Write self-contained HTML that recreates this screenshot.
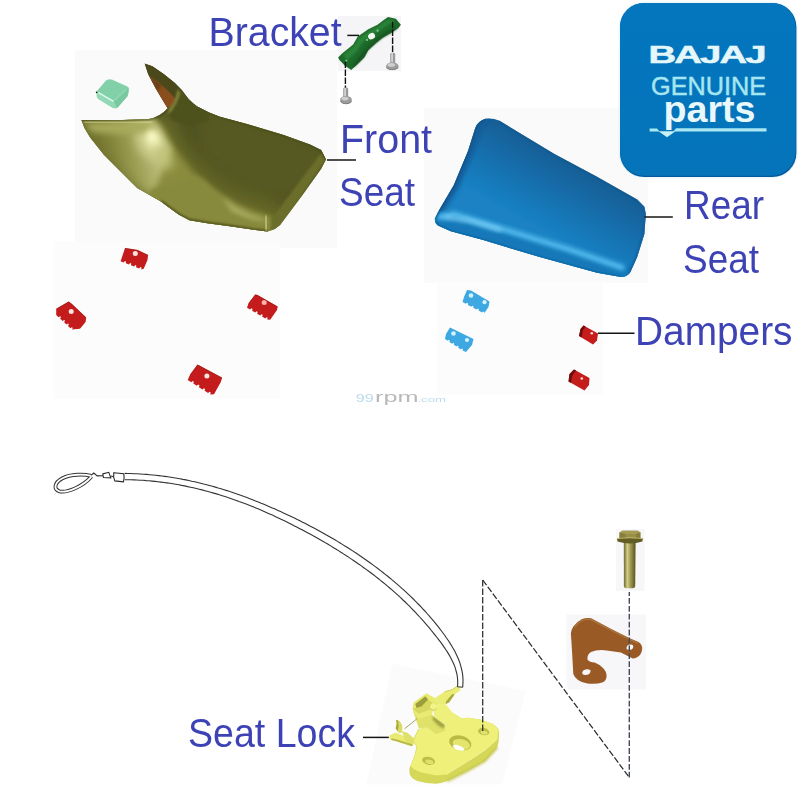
<!DOCTYPE html>
<html>
<head>
<meta charset="utf-8">
<title>Seat parts diagram</title>
<style>
  html, body { margin: 0; padding: 0; background: #ffffff; }
  body { width: 802px; height: 800px; overflow: hidden; position: relative; font-family: "Liberation Sans", sans-serif; }
  svg { position: absolute; left: 0; top: 0; display: block; }
  .lbl { font-family: "Liberation Sans", sans-serif; fill: #3d43b5; font-size: 40px; }
</style>
</head>
<body>
<svg width="802" height="800" viewBox="0 0 802 800">
  <defs>
    <linearGradient id="gSeat" x1="0" y1="0" x2="1" y2="1">
      <stop offset="0" stop-color="#8a8a3a"/>
      <stop offset="0.45" stop-color="#6e6f24"/>
      <stop offset="1" stop-color="#5d5e1c"/>
    </linearGradient>
    <linearGradient id="gRear" x1="0" y1="0" x2="1" y2="1">
      <stop offset="0" stop-color="#1f8fd4"/>
      <stop offset="1" stop-color="#1378bd"/>
    </linearGradient>
    <linearGradient id="gLogo" x1="0" y1="0" x2="0" y2="1">
      <stop offset="0" stop-color="#0376be"/>
      <stop offset="1" stop-color="#0574ba"/>
    </linearGradient>
    <filter id="b1" x="-20%" y="-20%" width="140%" height="140%"><feGaussianBlur stdDeviation="1"/></filter>
    <filter id="b2" x="-30%" y="-30%" width="160%" height="160%"><feGaussianBlur stdDeviation="2"/></filter>
    <filter id="b3" x="-40%" y="-40%" width="180%" height="180%"><feGaussianBlur stdDeviation="3"/></filter>
    <filter id="b5" x="-50%" y="-50%" width="200%" height="200%"><feGaussianBlur stdDeviation="5"/></filter>
    <filter id="b8" x="-60%" y="-60%" width="220%" height="220%"><feGaussianBlur stdDeviation="8"/></filter>
    <filter id="txt" x="-2%" y="-10%" width="104%" height="120%"><feGaussianBlur stdDeviation="0.35"/></filter>
    <filter id="soft" x="-5%" y="-5%" width="110%" height="110%"><feGaussianBlur stdDeviation="0.6"/></filter>
    <clipPath id="cSeat">
      <path d="M81.4 120 L122.5 120 L148.8 119.1 Q160 117 167.6 108.3 L163.7 102.1 L155.8 88.7 L148 74.1 L144.6 63.4 L152.4 66.2 L163.7 74.1 L174.9 83.1 L181.6 89.8 L188.4 98.8 Q192.5 103 197.3 106.6 L208.6 112.2 L220 116.7 L246 123.7 L283.7 135 L310 144.4 L321.2 150 L326 159.4 L321.2 168.7 L302.5 195 L280 225 L274.8 229 L267.3 231.4 L253.8 229.8 L229.9 226.2 L207.4 223.2 L189.5 220.2 L179 214.8 L170 208.2 L161 201.5 L137.3 188 L120.5 171.2 L103.7 154.4 L90.2 137.5 L84.5 128 Z"/>
    </clipPath>
    <clipPath id="cRear">
      <path d="M485.2 118.8 Q492 117.5 499.6 120.8 L554 153.8 L597 176.7 L637.2 199.6 L644.4 206.8 L645.8 214 L644.4 234 L637.2 257 L630 272.8 Q627 277 621 277 L597 272.8 L539.7 257 L482.4 239.8 L450.8 231.2 L437.9 225.4 Q434 222 435 218.3 L439.3 209.7 L453.7 185.3 L468 150.9 L475.2 128 Q478 121 485.2 118.8 Z"/>
    </clipPath>
    <linearGradient id="gRearTop" gradientUnits="userSpaceOnUse" x1="568" y1="160" x2="530.7" y2="225">
      <stop offset="0" stop-color="#145e96"/>
      <stop offset="0.35" stop-color="#156aa6"/>
      <stop offset="0.75" stop-color="#1679ba"/>
      <stop offset="1" stop-color="#1a82c4"/>
    </linearGradient>
    <linearGradient id="gBolt" x1="0" y1="0" x2="1" y2="0">
      <stop offset="0" stop-color="#6c6626"/>
      <stop offset="0.3" stop-color="#d2cd8e"/>
      <stop offset="0.6" stop-color="#9a944a"/>
      <stop offset="1" stop-color="#57531e"/>
    </linearGradient>
    <linearGradient id="gWing" gradientUnits="userSpaceOnUse" x1="84" y1="150" x2="150" y2="135">
      <stop offset="0" stop-color="#6a6c2a"/>
      <stop offset="0.35" stop-color="#7c7e36"/>
      <stop offset="0.65" stop-color="#979a4e"/>
      <stop offset="1" stop-color="#b9b976"/>
    </linearGradient>
  </defs>

  <!-- BACKGROUND PATCHES -->
  <g id="patches">
    <rect x="75" y="50" width="262" height="198" fill="#fafafa"/>
    <rect x="54" y="241" width="226" height="158" fill="#fcfcfc"/>
    <rect x="424" y="108" width="224" height="175" fill="#fafafa"/>
    <rect x="437" y="282" width="166" height="113" fill="#fcfcfc"/>
  </g>

  <!-- FRONT SEAT -->
  <g id="frontseat" filter="url(#soft)">
    <g clip-path="url(#cSeat)">
      <rect x="70" y="55" width="270" height="185" fill="#4f5321"/>
      <!-- top face gentle gradient lighter toward right rear -->
      <path d="M200 100 L330 150 L330 170 L260 215 L200 160 Z" fill="#565a24" filter="url(#b8)"/>
      <!-- transition zone -->
      <path d="M160 116 L172 112 Q178 140 196 160 Q220 186 250 198 L290 212 L276 236 L130 236 L100 160 Z" fill="#6c6e2c" opacity="0.85" filter="url(#b8)"/>
      <!-- left wing / side face -->
      <path d="M78 116 L150 117 Q155 117 157 121 L168.6 140 L182 158 Q196 178 214 191 Q236 206 270 217 L276 236 L130 236 L78 140 Z" fill="#8b8c3e" filter="url(#b3)"/>
      <path d="M78 116 L150 117 L160 126 L172 150 L150 200 L120 180 L78 140 Z" fill="url(#gWing)" filter="url(#b3)"/>
      <ellipse cx="150" cy="143" rx="12" ry="19" fill="#cfcf8e" filter="url(#b5)" transform="rotate(-32 150 143)"/>
      <!-- lower/left darker falloff on wing -->
      <path d="M78 126 L96 150 L120 174 L140 190 L172 206 L172 240 L70 240 Z" fill="#66672a" opacity="0.75" filter="url(#b5)"/>
      <!-- lighter band under the top edge of the wing -->
      <path d="M84 123 L150 122 L156 132 L120 134 L92 132 Z" fill="#a9aa5c" filter="url(#b3)"/>
      <path d="M84 122.8 L122 122.8 L152 122" fill="none" stroke="#cfcf88" stroke-width="2.6" filter="url(#b1)"/>
      <!-- main highlight -->
      <ellipse cx="153.5" cy="140" rx="6.5" ry="11" fill="#fbfbc6" filter="url(#b3)" transform="rotate(-22 153.5 140)"/>
      <ellipse cx="162" cy="156" rx="8" ry="16" fill="#c3c57c" opacity="0.8" filter="url(#b5)" transform="rotate(-35 162 156)"/>
      <!-- front face -->
      <path d="M196 176 L204.4 180 Q210 187 219.4 193.5 L234.4 204 L250.8 212.2 L262.8 215.9 L270 216 L270 236 L160 236 L150 190 Z" fill="#87893e" filter="url(#b2)"/>
      <path d="M222 198 L236 207 L251 214.5 L263 218.4 L266 222 L250 219 L232 212 Z" fill="#a7a95e" filter="url(#b2)"/>
      <path d="M267.3 231.4 L253.8 229.8 L229.9 226.2 L207.4 223.2 L189.5 220.2 L179 214.8 L170 208.2 L161 201.5" fill="none" stroke="#55571f" stroke-width="3.2" filter="url(#b1)"/>
      <path d="M265.6 217 L266.4 229" fill="none" stroke="#c2c282" stroke-width="3" filter="url(#b1)" stroke-linecap="round"/>
      <!-- right side strip -->
      <path d="M326 159 L322 152 L272 218 L270 232 L282 226 Z" fill="#6b6e2b" filter="url(#b1)"/>
      <!-- top edge dark lines -->
      
      <path d="M197.3 106.6 L208.6 112.2 L220 116.7 L246 123.7 L283.7 135 L310 144.4 L321.2 150 L326 159.4" fill="none" stroke="#474b18" stroke-width="2" filter="url(#b1)"/>
      <!-- horn -->
      <path d="M143 60 L153 63 L166 73 L178 84 L186 94 L194 103 L206 110 L210 120 L190 126 L172 120 L168 112 L176 96 L160 76 Z" fill="#4d511f" filter="url(#b1)"/>
      <path d="M144.6 63.4 L152.4 66.2 L163.7 74.1 L174.9 83.1 L178 88 L177 92 L172.6 104.4 L167.6 108.3 L163.7 102.1 L155.8 88.7 L148 74.1 Z" fill="#4c4a1c"/>
      <path d="M148.6 75.5 L151.3 77.4 L158 82 L169.3 92 L176 99.9 L172.6 104.4 L167.6 108.3 L163.7 102.1 L155.8 88.7 Z" fill="#8a4e1d"/>
      <path d="M148.6 75.5 L151.3 77.4 L158 82 L162 86 L158 91 L155.8 88.7 Z" fill="#6b431a" filter="url(#b1)"/>
      <path d="M177.6 89 L180.4 93.4 L176.4 103.4 L171.4 111.4 L167.6 114.6 L169 108.6 L173.6 102.6 L176.6 94 Z" fill="#7f8139" filter="url(#b1)"/>
      <path d="M81 120 L122.5 120 L148.8 119.1 Q160 117 167.6 108.3" fill="none" stroke="#3f4314" stroke-width="1.6" filter="url(#b1)"/>
    </g>
  </g>

  <!-- BRACKET + SCREWS -->
  <g id="bracket">
    <rect x="338" y="16" width="63" height="55" fill="#f5f5f7"/>
    <g filter="url(#soft)">
      <path d="M338.1 57.5 L342.1 53.6 L353.2 44.4 L357.8 36.5 L368.3 29.3 L377.5 24.7 L382.7 20.7 L388 17.1 L395.9 18.8 L400.9 24.7 L398.5 28 L390.6 33.2 L382.7 37.8 L376.2 43.1 L368.3 50.3 L364.4 57.5 L357.8 64.1 L351.2 70 L344.7 65.4 L339.4 60.1 Z" fill="#1f6b2c"/>
      <path d="M343 55 L354 46 L359 38 L369 31 L378 26.5 L388 19.5 L394 20.5 L380 30 L370 36 L362 43 L356 52 L348 60 Z" fill="#2e8a3d" opacity="0.8" filter="url(#b1)"/>
      <path d="M364 57 L368 50 L376 43 L383 37.5 L391 33 L398 28 L396 27 L384 33 L374 40 L365 49 L358 58 L352 66 L354 67 Z" fill="#164f20" opacity="0.8" filter="url(#b1)"/>
      <ellipse cx="371.6" cy="36.2" rx="3.6" ry="3" fill="#f2f8f2" transform="rotate(-30 371.6 36.2)"/>
      <circle cx="367" cy="39.9" r="1.1" fill="#7ec98a"/>
      <circle cx="377.6" cy="30.7" r="1.1" fill="#7ec98a"/>
      <circle cx="346.2" cy="60.6" r="1.2" fill="#6dbb7a"/>
      <circle cx="392.6" cy="21.8" r="1.1" fill="#4aa35a"/>
    </g>
    <line x1="347.3" y1="35.4" x2="359" y2="35.4" stroke="#151515" stroke-width="1.5"/>
    <line x1="345.4" y1="61.5" x2="345.4" y2="88" stroke="#111" stroke-width="1.4" stroke-dasharray="6.4 1.6"/>
    <line x1="392.6" y1="21.5" x2="392.6" y2="52.4" stroke="#111" stroke-width="1.4" stroke-dasharray="6.4 1.6"/>
    <!-- screw 1 -->
    <g filter="url(#soft)">
      <rect x="343.2" y="87.6" width="5" height="10" rx="1.5" fill="#9a9a9a"/>
      <rect x="344.2" y="88" width="1.8" height="9" fill="#d2d2d2"/>
      <ellipse cx="346" cy="100" rx="5.9" ry="4.1" fill="#9c9c9c"/>
      <ellipse cx="345" cy="98.6" rx="3.6" ry="1.8" fill="#cfcfcf"/>
      <path d="M340.3 100.5 Q346 106 351.8 100.5 L351.5 102 Q346 106.5 340.6 102 Z" fill="#7f7f7f"/>
    </g>
    <!-- screw 2 -->
    <g filter="url(#soft)">
      <rect x="390.2" y="52.8" width="5" height="11" rx="1.5" fill="#9a9a9a"/>
      <rect x="391.2" y="53.2" width="1.8" height="10" fill="#d2d2d2"/>
      <ellipse cx="392.3" cy="66.2" rx="6.2" ry="3.9" fill="#9c9c9c"/>
      <ellipse cx="391.4" cy="64.9" rx="3.8" ry="1.8" fill="#cfcfcf"/>
      <path d="M386.2 66.8 Q392.3 72 398.4 66.8 L398.1 68.2 Q392.3 72.4 386.5 68.2 Z" fill="#7f7f7f"/>
    </g>
  </g>

  <!-- AQUA BLOCK -->
  <g id="aqua" filter="url(#soft)">
    <path d="M106.5 80.4 Q109 79.4 112 80 L127.6 87 Q129.2 88.2 128.6 90 L127.4 96 L117.4 107.4 Q115.4 108.6 112.6 107.4 L98 98.4 Q96.8 97 97 95 L97.4 91 Z" fill="#82d0a8" stroke="#82d0a8" stroke-width="0.8" stroke-linejoin="round"/>
    <path d="M97.2 91.4 L113.8 101 L116.6 107.6 Q114.6 108.4 112.6 107.4 L98 98.4 Q96.8 97 97 95 Z" fill="#93d9b6"/>
    <path d="M113.8 101 L127 88.6 L128.6 90 L127.4 96 L117.4 107.4 L116.6 107.6 Z" fill="#7ac89f"/>
    <path d="M98.4 92.6 L113.6 101.4" fill="none" stroke="#dbfaee" stroke-width="1.5"/>
    <path d="M114.6 100.4 L126.6 89.2" fill="none" stroke="#a5e2c6" stroke-width="1"/>
    <circle cx="96.6" cy="92.4" r="0.8" fill="#111"/>
  </g>

  <!-- REAR SEAT -->
  <g id="rearseat" filter="url(#soft)">
    <g clip-path="url(#cRear)">
      <rect x="430" y="110" width="220" height="172" fill="url(#gRearTop)"/>
      <!-- left edge darker strip -->
      <path d="M484 116 L476 126 L466 152 L452 186 L434 214 L442 214 L459 187 L473 153 L483 127 L490 118 Z" fill="#145c98" filter="url(#b2)"/>
      <!-- front face -->
      <path d="M434 212 L456 210.5 L511 228 L568 245.5 L626 265 L636 260 L636 282 L430 282 Z" fill="#1478b8"/>
      <!-- ridge highlight band -->
      <path d="M440 217 L454 214 L511 231.5 L568 249 L622 267.5" fill="none" stroke="#52bcf0" stroke-width="6" filter="url(#b2)" stroke-linecap="round"/>
      <path d="M446 217.5 L470 221 L500 230" fill="none" stroke="#7fd2f7" stroke-width="3" filter="url(#b2)" stroke-linecap="round"/>
      <!-- bottom edge darker -->
      <path d="M435 222 L437.9 226.5 L450.8 232.5 L482.4 241 L539.7 258.4 L597 274 L621 278.5" fill="none" stroke="#0f609a" stroke-width="3.4" filter="url(#b1)"/>
      <!-- right edge dark -->
      <path d="M637 199 L645.5 207 L646.5 214 L645 234 L638 257 L630.5 273.5" fill="none" stroke="#125f9c" stroke-width="4.5" filter="url(#b1)"/>
      <!-- far edge darker -->
      <path d="M499.6 120.8 L554 153.8 L597 176.7 L637.2 199.6" fill="none" stroke="#11578c" stroke-width="2.4" filter="url(#b1)"/>
      <path d="M485 118.4 Q478 121 475.2 128 L468 150.9 L453.7 185.3 L439.3 209.7 L435 218.3" fill="none" stroke="#0d4a7c" stroke-width="1.6" filter="url(#b1)"/>
    </g>
  </g>

  <!-- DAMPERS -->
  <g id="dampers" filter="url(#soft)">
    <path d="M120.6 261.2 L125.0 248.1 L137.5 250.0 L148.1 255.0 L147.5 260.0 L143.7 268.7 L141.2 269.4 L141.5 267.6 L140.3 267.1 L139.2 268.6 L136.0 267.3 L136.3 265.5 L135.2 265.1 L134.1 266.6 L130.9 265.3 L131.2 263.5 L130.0 263.0 L128.9 264.5 L125.8 263.2 L126.0 261.4 L124.9 261.0 L123.8 262.5 Z" fill="#c41f1f"/><circle cx="135.3" cy="253.4" r="2.5" fill="#fde3df"/>
    <path d="M56.2 315.0 L56.2 308.7 L68.7 301.6 L72.5 304.4 L86.2 317.5 L85.6 321.9 L80.0 328.7 L71.9 329.6 L72.8 328.0 L71.9 327.2 L70.4 328.2 L68.0 326.0 L68.9 324.3 L68.0 323.5 L66.5 324.6 L64.1 322.3 L65.0 320.7 L64.1 319.9 L62.6 320.9 L60.1 318.6 L61.0 317.0 L60.2 316.2 L58.6 317.3 Z" fill="#c41f1f"/><circle cx="71.2" cy="311.6" r="2.5" fill="#fde3df"/>
    <path d="M247.0 307.7 L248.5 303.2 L255.2 294.6 L257.5 295.0 L277.7 306.6 L277.0 310.0 L270.2 319.7 L267.2 319.6 L267.7 317.8 L266.6 317.2 L265.3 318.5 L262.1 316.6 L262.7 314.8 L261.5 314.2 L260.2 315.5 L257.1 313.7 L257.6 311.9 L256.5 311.2 L255.2 312.5 L252.1 310.7 L252.6 308.9 L251.4 308.2 L250.1 309.5 Z" fill="#c41f1f"/><circle cx="264.2" cy="302.5" r="2.5" fill="#ffb0a8"/>
    <path d="M187.7 380.0 L190.0 374.7 L197.5 364.6 L222.2 377.7 L220.7 382.2 L214.0 394.2 L210.2 394.4 L210.7 392.6 L209.5 391.8 L208.1 393.0 L204.6 390.8 L205.1 389.0 L203.9 388.2 L202.4 389.4 L198.9 387.2 L199.5 385.4 L198.2 384.6 L196.8 385.8 L193.3 383.6 L193.8 381.8 L192.6 381.0 L191.2 382.2 Z" fill="#c41f1f"/><circle cx="206.9" cy="375.9" r="2.5" fill="#fde3df"/>
    <g fill="none" stroke="#8a1212" stroke-width="0.9" opacity="0.55">
      <path d="M125 248.4 L137.5 250.3 L147.8 255.2"/>
      <path d="M56.6 308.9 L68.7 302 L72.3 304.7 L85.9 317.7"/>
      <path d="M248.8 303.3 L255.3 295 L257.4 295.4 L277.4 306.9"/>
      <path d="M190.3 374.8 L197.6 365 L221.9 377.9"/>
    </g>
  </g>
  <g id="bluedampers" filter="url(#soft)">
    <path d="M462.5 302.0 L464.0 297.0 L467.0 290.0 L471.0 290.5 L489.5 301.5 L488.5 307.0 L484.0 313.5 L484.2 312.0 L483.0 311.4 L482.0 312.4 L478.6 310.6 L478.9 309.2 L477.7 308.5 L476.6 309.5 L473.2 307.8 L473.5 306.3 L472.3 305.7 L471.2 306.7 L467.9 304.9 L468.1 303.4 L466.9 302.8 L465.8 303.8 Z" fill="#3ea8e2"/><circle cx="471" cy="295.5" r="2.3" fill="#d2f2fd"/><circle cx="484.5" cy="302.2" r="2.1" fill="#d2f2fd"/>
    <path d="M445.0 339.0 L446.0 334.0 L450.0 327.5 L473.5 339.0 L472.0 345.0 L466.0 352.0 L462.5 350.5 L462.9 349.1 L462.0 348.5 L460.8 349.4 L458.1 347.6 L458.5 346.2 L457.6 345.6 L456.5 346.5 L453.8 344.8 L454.2 343.4 L453.2 342.7 L452.1 343.7 L449.4 341.9 L449.8 340.5 L448.8 339.8 L447.7 340.8 Z" fill="#3ea8e2"/><circle cx="453.5" cy="333.5" r="2.3" fill="#d2f2fd"/><circle cx="467" cy="340" r="2.1" fill="#d2f2fd"/>
  </g>
  <g id="smallreds" filter="url(#soft)">
    <path d="M583.5 325.5 L598 333.5 L597 340.5 L593 344.5 L579 336 L580.5 329 Z" fill="#c51f1f"/>
    <path d="M583.5 325.5 L580.5 329 L579 336 L581.6 337.4 L583 330.5 L585.5 326.6 Z" fill="#6e1010"/>
    <circle cx="591.8" cy="333.2" r="1.3" fill="#fbd9d4"/>
    <path d="M574 369.5 L589.5 378 L589 385 L584.5 390.5 L568.5 381.5 L569.5 374 Z" fill="#c51f1f"/>
    <path d="M574 369.5 L569.5 374 L568.5 381.5 L571.2 383 L572.2 376 L576 370.6 Z" fill="#6e1010"/>
    <circle cx="581.8" cy="378.5" r="1.3" fill="#fbd9d4"/>
  </g>
  <line x1="598" y1="333.3" x2="634.5" y2="333.3" stroke="#151515" stroke-width="1.5"/>
  <line x1="644.5" y1="217" x2="672.8" y2="217" stroke="#151515" stroke-width="1.5"/>
  <line x1="327" y1="160" x2="356" y2="160" stroke="#151515" stroke-width="1.5"/>

  <!-- LOGO -->
  <g id="logo">
    <rect x="619.4" y="2.4" width="177.6" height="175.2" rx="25" ry="25" fill="#d9f1fa" filter="url(#b1)"/>
    <rect x="620" y="3" width="176.4" height="174" rx="24" ry="24" fill="#07589a"/>
    <rect x="620" y="3" width="175.6" height="172.8" rx="24" ry="24" fill="url(#gLogo)"/>
    <g transform="translate(648.6 62.8) scale(1.66 1)"><text x="0" y="0" font-family="Liberation Sans, sans-serif" font-weight="bold" font-size="23" letter-spacing="-1.1" fill="#e4f7fa" stroke="#e4f7fa" stroke-width="0.5">BAJAJ</text></g>
    <text x="651" y="95.2" font-family="Liberation Sans, sans-serif" font-size="25.5" fill="#a5e6f1" stroke="#a5e6f1" stroke-width="0.45" textLength="115" lengthAdjust="spacingAndGlyphs">GENUINE</text>
    <text x="663.5" y="122.3" font-family="Liberation Sans, sans-serif" font-weight="bold" font-size="36" fill="#e9f8fb" textLength="92" lengthAdjust="spacingAndGlyphs">parts</text>
    <path d="M649.6 128.6 L657 128.6 L659.5 131.6 L649.6 131.6 Z" fill="#a9e7f2"/>
    <path d="M676 128.2 L766.5 128.2 L766.5 131.4 L673.5 131.4 Z" fill="#a9e7f2"/>
    <path d="M658.5 131.2 L675.5 131.2 L667 137.2 Z" fill="#c8f0f7"/>
  </g>

  <!-- SEAT LOCK -->
  <g id="seatlock">
    <path d="M392.4 663.7 L525.8 691.1 L502 784.6 L366.2 784.6 Z" fill="#fbfbfb"/>
    <g filter="url(#soft)">
      <!-- plate silhouette (side, darker) -->
      <path d="M412.4 741.3 L418.1 729.2 L427 727.5 L435.9 734 L444.8 728.4 L451 712 L461.1 718.6 L467.5 717.8 L480.5 719.4 L491.9 723.5 Q499.4 728 499.1 732.4 L498.6 742 L497.3 747.4 L484.8 761.2 L467.3 771.1 L447.4 781.1 Q442 783.4 436.2 783.8 Q426 783.6 417.5 781.1 Q412 778.6 410 774.9 Q409 771 409.6 768 L414.9 754.3 L416.5 746.2 Z" fill="#d5d758"/>
      <!-- plate top face (lighter) -->
      <path d="M413.4 741.3 L418.7 729.4 L427 727.5 L435.9 734 L444.8 728.4 L451 712 L461.1 718.6 L467.5 717.8 L480.5 719.4 L491.9 723.5 Q498.6 728 498.4 732 L497.3 738.7 L484.8 749.9 L467.3 761.2 L446.1 774.3 Q440 775.6 433.7 774.9 Q424 773.6 417.5 771.1 Q412.6 768.8 410.6 766.1 L415.4 754.3 L417.2 746.2 Z" fill="#eff07a"/>
      <!-- side face vertical ribs hint -->
      <path d="M446.1 774.6 L467.3 761.5 L484.8 750.2 L497.3 739" fill="none" stroke="#f6f7a0" stroke-width="1" opacity="0.9"/>
      <path d="M447.4 781.3 L467.3 771.3 L484.8 761.4 L497.3 747.6" fill="none" stroke="#bdbf46" stroke-width="1.6" filter="url(#b1)"/>
      <!-- big hole -->
      <ellipse cx="460.2" cy="742.9" rx="11.3" ry="7.3" fill="#b9bb44" transform="rotate(14 460.2 742.9)"/>
      <ellipse cx="461.4" cy="744.2" rx="8.8" ry="5" fill="#e3e56e" transform="rotate(14 461.4 744.2)"/>
      <ellipse cx="458.6" cy="747.8" rx="6" ry="2.3" fill="#ffffff" transform="rotate(20 458.6 747.8)"/>
      <!-- right hole -->
      <ellipse cx="483.7" cy="731.6" rx="5.7" ry="3.6" fill="#bcbe46" transform="rotate(12 483.7 731.6)"/>
      <ellipse cx="484.2" cy="732.6" rx="3.6" ry="2" fill="#dfe16e" transform="rotate(12 484.2 732.6)"/>
      <!-- bottom-left hole -->
      <ellipse cx="428.6" cy="760.8" rx="6.5" ry="4" fill="#bcbe46" transform="rotate(12 428.6 760.8)"/>
      <ellipse cx="429.4" cy="761.8" rx="4.2" ry="2.2" fill="#dfe16e" transform="rotate(12 429.4 761.8)"/>
      <!-- wedge -->
      <path d="M413.1 711.4 L416.2 720.5 L418.9 728.6 L427 727.5 L435.9 734 L444.8 731 L445 724.9 L434.4 717 L432.1 714.8 L418.7 713.7 Z" fill="#dfe169"/>
      <path d="M432.1 717 L434.4 717 L445 724.9 L443.4 728.8 L437.7 724.9 L433.3 720.4 Z" fill="#a0a23c" filter="url(#b1)"/>
      <!-- neck top -->
      <path d="M438.9 704.1 L445.6 704.1 L452.3 712.5 L463.6 719.3 L454.6 727.1 L444.5 729.4 L445.6 724.9 L434.4 717 L433.3 708.1 Z" fill="#eef07c"/>
      <!-- tube to cable -->
      <path d="M434.9 698 L444.5 691.8 L452.3 689.5 L457.9 685.6 L460.8 690.1 L454.6 694.6 L449 702.4 L445.6 704.1 L438.9 704.1 Z" fill="#eaec76"/>
      <path d="M445.6 704.1 L449 702.4 L454.6 694.6 L452.3 694 L446.2 701.3 Z" fill="#a8aa40"/>
      <path d="M444.5 691.8 L452.3 689.5 L457.9 685.6" fill="none" stroke="#c6c852" stroke-width="0.8"/>
      <!-- box -->
      <path d="M412.5 708.6 L413.6 702.4 L426.5 693.2 L434.9 698 L438.9 704.1 L433.3 708.1 L432.1 714.8 L418.7 718.7 L413.1 711.4 Z" fill="#e8ea72"/>
      <path d="M412.5 708.6 L416.4 708.1 L421.5 706.4 L428.2 699.6 L432.1 702.4 L431 709.2 L418.7 713.7 Z" fill="#d6d860"/>
      <path d="M415.3 704.1 L425.4 696.3 L428.2 699.6 L421.5 706.4 L416.4 708.1 Z" fill="#9c9e3a"/>
      <circle cx="433.3" cy="706.9" r="3.2" fill="#f1f388"/>
      <path d="M430.4 708.4 A3.2 3.2 0 0 0 436.2 708.4" fill="none" stroke="#c2c44e" stroke-width="0.9"/>
      <!-- thin rod -->
      <line x1="404.6" y1="728.8" x2="417" y2="718.7" stroke="#a2a468" stroke-width="1"/>
      <!-- lever fin -->
      <path d="M396.2 719.8 L399.6 721 Q402.8 724.6 402.4 728.3 L401.8 732.7 L398.5 732.7 L395.7 728.3 Q397.4 724 396.2 719.8 Z" fill="#dadc64"/>
      <path d="M396.2 719.8 Q397.4 724 395.7 728.3 L397.6 731.2 Q399.4 725.4 398 720.6 Z" fill="#a6a840"/>
      <!-- pin -->
      <path d="M389.5 735.5 L395.1 732.7 L399.6 733.9 L413.1 741.2 L411.9 746.2 L396.2 741.2 L391.2 740 Q388.6 737.6 389.5 735.5 Z" fill="#e8ea72"/>
      <path d="M401.8 731.1 L407.4 732.7 L414.2 738.4 L413.1 746.2 L405.2 740.6 Z" fill="#dee068"/>
      <path d="M391.2 740 L396.2 741.2 L411.9 746.2 L412.4 744.2 L397 739.4 L391.6 738.2 Z" fill="#b9bb48"/>
    </g>
    <line x1="363" y1="737.4" x2="388.8" y2="737.4" stroke="#151515" stroke-width="1.5"/>
  </g>

  <!-- CABLE -->
  <g id="cable">
    <!--cableS--><path d="M124.8 473.4 L127.9 473.5 L131.0 473.5 L134.1 473.7 L137.2 473.8 L140.3 474.0 L143.4 474.2 L146.5 474.4 L149.6 474.7 L152.6 475.0 L155.7 475.3 L158.7 475.6 L161.8 476.0 L164.8 476.4 L167.8 476.8 L170.9 477.3 L173.9 477.8 L176.9 478.3 L179.9 478.8 L182.9 479.4 L185.9 479.9 L188.8 480.5 L191.8 481.2 L194.8 481.8 L197.7 482.5 L200.7 483.2 L203.6 484.0 L206.6 484.7 L209.5 485.5 L212.4 486.3 L215.3 487.1 L218.2 488.0 L221.1 488.8 L224.0 489.7 L226.9 490.6 L229.8 491.6 L232.7 492.5 L235.5 493.5 L238.4 494.5 L241.3 495.5 L244.1 496.6 L247.0 497.6 L249.8 498.7 L252.6 499.8 L255.5 500.9 L258.3 502.0 L261.1 503.2 L263.9 504.3 L266.7 505.5 L269.5 506.7 L272.3 507.9 L275.1 509.1 L277.9 510.4 L280.6 511.6 L283.4 512.9 L286.2 514.2 L288.9 515.5 L291.7 516.8 L294.4 518.1 L297.2 519.4 L299.9 520.8 L302.6 522.2 L305.4 523.6 L308.1 525.0 L310.8 526.4 L313.5 527.8 L316.2 529.2 L318.9 530.7 L321.6 532.2 L324.2 533.7 L326.9 535.2 L329.6 536.7 L332.2 538.2 L334.9 539.8 L337.5 541.4 L340.1 543.0 L342.7 544.6 L345.3 546.2 L347.9 547.8 L350.5 549.5 L353.1 551.1 L355.6 552.8 L358.2 554.5 L360.7 556.2 L363.2 558.0 L365.7 559.7 L368.2 561.5 L370.7 563.3 L373.2 565.1 L375.6 566.9 L378.1 568.7 L380.5 570.6 L382.9 572.5 L385.3 574.4 L387.7 576.3 L390.1 578.2 L392.4 580.2 L394.7 582.1 L397.1 584.1 L399.4 586.1 L401.6 588.1 L403.9 590.2 L406.1 592.2 L408.4 594.3 L410.6 596.4 L412.8 598.5 L414.9 600.7 L417.1 602.8 L419.2 605.0 L421.3 607.2 L423.4 609.5 L425.5 611.7 L427.5 614.0 L429.6 616.3 L431.5 618.6 L433.5 620.9 L435.5 623.3 L437.4 625.7 L439.3 628.1 L441.1 630.5 L443.0 633.0 L444.8 635.5 L446.5 638.0 L448.3 640.5 L450.0 643.1 L451.6 645.7 L453.2 648.4 L454.7 651.1 L456.1 653.9 L457.4 656.7 L458.6 659.5 L459.7 662.4 L460.6 665.3 L461.4 668.3 L462.1 671.3 L462.6 674.4 L462.9 677.6 L463.0 680.7 L462.9 684.0 L462.7 687.2 L457.5 686.8 L457.7 683.8 L457.7 680.9 L457.5 678.0 L457.1 675.2 L456.5 672.5 L455.8 669.8 L455.0 667.1 L454.0 664.5 L452.8 661.9 L451.6 659.4 L450.3 656.9 L448.8 654.4 L447.3 651.9 L445.7 649.5 L444.1 647.1 L442.4 644.6 L440.6 642.2 L438.8 639.9 L437.0 637.5 L435.1 635.1 L433.3 632.8 L431.4 630.5 L429.5 628.2 L427.6 625.9 L425.6 623.7 L423.7 621.4 L421.7 619.2 L419.7 617.0 L417.7 614.8 L415.7 612.6 L413.6 610.5 L411.5 608.3 L409.4 606.2 L407.3 604.1 L405.2 602.0 L403.0 600.0 L400.9 597.9 L398.7 595.9 L396.5 593.9 L394.2 591.9 L392.0 589.9 L389.7 588.0 L387.5 586.1 L385.2 584.1 L382.8 582.2 L380.5 580.4 L378.2 578.5 L375.8 576.6 L373.4 574.8 L371.1 573.0 L368.7 571.2 L366.2 569.4 L363.8 567.7 L361.4 565.9 L358.9 564.2 L356.4 562.5 L353.9 560.8 L351.4 559.1 L348.9 557.4 L346.4 555.8 L343.9 554.1 L341.3 552.5 L338.8 550.9 L336.2 549.3 L333.6 547.7 L331.1 546.1 L328.5 544.6 L325.9 543.1 L323.3 541.5 L320.6 540.0 L318.0 538.5 L315.4 537.0 L312.7 535.6 L310.1 534.1 L307.4 532.7 L304.8 531.3 L302.1 529.8 L299.4 528.4 L296.7 527.0 L294.0 525.7 L291.4 524.3 L288.7 522.9 L286.0 521.6 L283.3 520.3 L280.5 519.0 L277.8 517.7 L275.1 516.4 L272.4 515.1 L269.6 513.9 L266.9 512.7 L264.1 511.5 L261.4 510.3 L258.6 509.1 L255.9 508.0 L253.1 506.8 L250.3 505.7 L247.5 504.6 L244.7 503.5 L241.9 502.5 L239.1 501.5 L236.3 500.4 L233.5 499.5 L230.7 498.5 L227.8 497.5 L225.0 496.6 L222.2 495.7 L219.3 494.8 L216.5 493.9 L213.6 493.1 L210.7 492.3 L207.9 491.5 L205.0 490.7 L202.1 489.9 L199.2 489.2 L196.3 488.5 L193.4 487.8 L190.5 487.2 L187.6 486.6 L184.6 485.9 L181.7 485.4 L178.8 484.8 L175.8 484.3 L172.9 483.8 L169.9 483.3 L167.0 482.9 L164.0 482.5 L161.0 482.1 L158.0 481.7 L155.0 481.4 L152.0 481.1 L149.0 480.8 L146.0 480.6 L143.0 480.3 L140.0 480.2 L136.9 480.0 L133.9 479.9 L130.9 479.8 L127.8 479.7 L124.7 479.7 Z" fill="#ffffff" stroke="none"/>
    <path d="M124.8 473.4 L127.9 473.5 L131.0 473.5 L134.1 473.7 L137.2 473.8 L140.3 474.0 L143.4 474.2 L146.5 474.4 L149.6 474.7 L152.6 475.0 L155.7 475.3 L158.7 475.6 L161.8 476.0 L164.8 476.4 L167.8 476.8 L170.9 477.3 L173.9 477.8 L176.9 478.3 L179.9 478.8 L182.9 479.4 L185.9 479.9 L188.8 480.5 L191.8 481.2 L194.8 481.8 L197.7 482.5 L200.7 483.2 L203.6 484.0 L206.6 484.7 L209.5 485.5 L212.4 486.3 L215.3 487.1 L218.2 488.0 L221.1 488.8 L224.0 489.7 L226.9 490.6 L229.8 491.6 L232.7 492.5 L235.5 493.5 L238.4 494.5 L241.3 495.5 L244.1 496.6 L247.0 497.6 L249.8 498.7 L252.6 499.8 L255.5 500.9 L258.3 502.0 L261.1 503.2 L263.9 504.3 L266.7 505.5 L269.5 506.7 L272.3 507.9 L275.1 509.1 L277.9 510.4 L280.6 511.6 L283.4 512.9 L286.2 514.2 L288.9 515.5 L291.7 516.8 L294.4 518.1 L297.2 519.4 L299.9 520.8 L302.6 522.2 L305.4 523.6 L308.1 525.0 L310.8 526.4 L313.5 527.8 L316.2 529.2 L318.9 530.7 L321.6 532.2 L324.2 533.7 L326.9 535.2 L329.6 536.7 L332.2 538.2 L334.9 539.8 L337.5 541.4 L340.1 543.0 L342.7 544.6 L345.3 546.2 L347.9 547.8 L350.5 549.5 L353.1 551.1 L355.6 552.8 L358.2 554.5 L360.7 556.2 L363.2 558.0 L365.7 559.7 L368.2 561.5 L370.7 563.3 L373.2 565.1 L375.6 566.9 L378.1 568.7 L380.5 570.6 L382.9 572.5 L385.3 574.4 L387.7 576.3 L390.1 578.2 L392.4 580.2 L394.7 582.1 L397.1 584.1 L399.4 586.1 L401.6 588.1 L403.9 590.2 L406.1 592.2 L408.4 594.3 L410.6 596.4 L412.8 598.5 L414.9 600.7 L417.1 602.8 L419.2 605.0 L421.3 607.2 L423.4 609.5 L425.5 611.7 L427.5 614.0 L429.6 616.3 L431.5 618.6 L433.5 620.9 L435.5 623.3 L437.4 625.7 L439.3 628.1 L441.1 630.5 L443.0 633.0 L444.8 635.5 L446.5 638.0 L448.3 640.5 L450.0 643.1 L451.6 645.7 L453.2 648.4 L454.7 651.1 L456.1 653.9 L457.4 656.7 L458.6 659.5 L459.7 662.4 L460.6 665.3 L461.4 668.3 L462.1 671.3 L462.6 674.4 L462.9 677.6 L463.0 680.7 L462.9 684.0 L462.7 687.2" fill="none" stroke="#333" stroke-width="1.1"/>
    <path d="M124.7 479.7 L127.8 479.7 L130.9 479.8 L133.9 479.9 L136.9 480.0 L140.0 480.2 L143.0 480.3 L146.0 480.6 L149.0 480.8 L152.0 481.1 L155.0 481.4 L158.0 481.7 L161.0 482.1 L164.0 482.5 L167.0 482.9 L169.9 483.3 L172.9 483.8 L175.8 484.3 L178.8 484.8 L181.7 485.4 L184.6 485.9 L187.6 486.6 L190.5 487.2 L193.4 487.8 L196.3 488.5 L199.2 489.2 L202.1 489.9 L205.0 490.7 L207.9 491.5 L210.7 492.3 L213.6 493.1 L216.5 493.9 L219.3 494.8 L222.2 495.7 L225.0 496.6 L227.8 497.5 L230.7 498.5 L233.5 499.5 L236.3 500.4 L239.1 501.5 L241.9 502.5 L244.7 503.5 L247.5 504.6 L250.3 505.7 L253.1 506.8 L255.9 508.0 L258.6 509.1 L261.4 510.3 L264.1 511.5 L266.9 512.7 L269.6 513.9 L272.4 515.1 L275.1 516.4 L277.8 517.7 L280.5 519.0 L283.3 520.3 L286.0 521.6 L288.7 522.9 L291.4 524.3 L294.0 525.7 L296.7 527.0 L299.4 528.4 L302.1 529.8 L304.8 531.3 L307.4 532.7 L310.1 534.1 L312.7 535.6 L315.4 537.0 L318.0 538.5 L320.6 540.0 L323.3 541.5 L325.9 543.1 L328.5 544.6 L331.1 546.1 L333.6 547.7 L336.2 549.3 L338.8 550.9 L341.3 552.5 L343.9 554.1 L346.4 555.8 L348.9 557.4 L351.4 559.1 L353.9 560.8 L356.4 562.5 L358.9 564.2 L361.4 565.9 L363.8 567.7 L366.2 569.4 L368.7 571.2 L371.1 573.0 L373.4 574.8 L375.8 576.6 L378.2 578.5 L380.5 580.4 L382.8 582.2 L385.2 584.1 L387.5 586.1 L389.7 588.0 L392.0 589.9 L394.2 591.9 L396.5 593.9 L398.7 595.9 L400.9 597.9 L403.0 600.0 L405.2 602.0 L407.3 604.1 L409.4 606.2 L411.5 608.3 L413.6 610.5 L415.7 612.6 L417.7 614.8 L419.7 617.0 L421.7 619.2 L423.7 621.4 L425.6 623.7 L427.6 625.9 L429.5 628.2 L431.4 630.5 L433.3 632.8 L435.1 635.1 L437.0 637.5 L438.8 639.9 L440.6 642.2 L442.4 644.6 L444.1 647.1 L445.7 649.5 L447.3 651.9 L448.8 654.4 L450.3 656.9 L451.6 659.4 L452.8 661.9 L454.0 664.5 L455.0 667.1 L455.8 669.8 L456.5 672.5 L457.1 675.2 L457.5 678.0 L457.7 680.9 L457.7 683.8 L457.5 686.8" fill="none" stroke="#333" stroke-width="1.1"/>
    <path d="M462.7 687.2 L457.5 686.8" fill="none" stroke="#333" stroke-width="1.1"/><!--cableE-->
    <!-- connectors -->
    <path d="M113.8 472.7 L123.8 473.7 Q124.6 477.8 123.4 481.9 L114.8 480.9 Q113 476.8 113.8 472.7 Z" fill="#fff" stroke="#2a2a2a" stroke-width="1.1"/>
    <path d="M102.8 473.9 L108.8 472.3 L110.8 477.9 L103.4 477.5 Z" fill="#fff" stroke="#2a2a2a" stroke-width="1.1"/>
    <path d="M110.8 476 L113.6 476.8" stroke="#2a2a2a" stroke-width="1.1" fill="none"/>
    <path d="M90.5 475.8 L93.8 473 L97.2 475.9 L102.9 475.8" fill="none" stroke="#2a2a2a" stroke-width="1.1"/>
    <!-- loop -->
    <path d="M91.5 475.8 C84 474.2 71 473.8 62.5 478.2 C54 482.6 53.5 489.6 59.5 491.3 C67 493.2 83 486.5 91.5 476.6" fill="none" stroke="#333" stroke-width="3.8"/>
    <path d="M91.5 475.8 C84 474.2 71 473.8 62.5 478.2 C54 482.6 53.5 489.6 59.5 491.3 C67 493.2 83 486.5 91.5 476.6" fill="none" stroke="#ffffff" stroke-width="1.8"/>
  </g>


  <!-- BOLT -->
  <g id="bolt">
    <rect x="616" y="529" width="28.6" height="62" fill="#f7f7f9"/>
    <g filter="url(#soft)">
      <path d="M623.8 541 L635.6 541 L635.2 586 Q635 588.2 632.8 588.2 L626.2 588.2 Q624 588.2 623.9 586 Z" fill="url(#gBolt)"/>
      <path d="M617 538.6 Q630 536.2 642.9 538.6 L642.4 541.4 Q630 545.4 617.5 541.4 Z" fill="#625d24"/>
      <path d="M619.3 532.6 L622.6 530.8 L637.6 530.8 L640.6 532.6 L640.6 538.2 L619.3 538.2 Z" fill="#877e38"/>
      <path d="M622.6 530.8 L637.6 530.8 L640.6 532.6 L635.8 534 L625.4 534 L619.3 532.6 Z" fill="#a69b52"/>
      <path d="M625.4 534 L635.8 534 L635.8 538.4 L625.4 538.4 Z" fill="#9a8f48"/>
      <path d="M617 538.7 Q630 536.3 642.9 538.7" fill="none" stroke="#bdb472" stroke-width="0.9"/>
    </g>
  </g>

  <!-- BROWN BRACKET -->
  <g id="brownbracket">
    <rect x="566.5" y="614.5" width="79.5" height="75" fill="#f7f7fa"/>
    <g filter="url(#soft)">
      <path fill-rule="evenodd" d="M581.6 619.3 Q586 617.4 591.1 618.2 L611.3 628.9 L630.3 638.4 L638.6 641.9 Q642.6 645 642.2 649 Q641.6 654 638.6 656.2 Q636 658.4 632.7 658.6 L620.8 652.6 L606.6 650.4 Q597 649.4 591 652 Q586.6 655 587.5 659.7 Q589.5 662.2 594.7 662.4 Q600 664.4 603 668.1 Q606.8 672 606.6 676.4 Q606.2 680.4 603 682.3 Q596 684.6 587.5 683.5 Q581.5 682.6 578 680 Q574.6 677.6 573.3 674 L572.1 652.6 L570.9 633.6 Q571.4 629.4 573.3 626.5 Q576.6 622 581.6 619.3 Z  M626.6 647.2 a3.3 2.4 -20 1 0 6.6 0 a3.3 2.4 -20 1 0 -6.6 0 Z  M582.4 672.1 a4 2.6 -15 1 0 8 0 a4 2.6 -15 1 0 -8 0 Z" fill="#9a5a26"/>
      <path d="M574.6 627.3 Q577.6 623 582.2 620.5 Q586.2 618.8 590.8 619.6 L611 630.2 L630 639.7 L638 643.2" fill="none" stroke="#b07a40" stroke-width="1.3" opacity="0.8"/>
    </g>
  </g>

  <!-- DASHED GUIDES -->
  <g id="guides" fill="none" stroke="#2b2d33" stroke-width="1.25" stroke-dasharray="6.4 2.1">
    <path d="M482.7 580 L482.7 732"/>
    <path d="M482.7 580 L629.4 777.6"/>
    <path d="M629.3 777.6 L629.3 592" stroke-dasharray="5.8 2.1" stroke="#434b5a" stroke-width="1.4"/>
  </g>

  <!-- WATERMARK -->
  <g id="watermark" font-family="Liberation Sans, sans-serif" filter="url(#soft)">
    <text x="355.8" y="402.4" font-size="10" fill="#b9dbeb" textLength="18" lengthAdjust="spacingAndGlyphs">99</text>
    <text x="375" y="401.8" font-size="14.5" fill="#b9b9b9" textLength="43.5" lengthAdjust="spacingAndGlyphs">rpm</text>
    <text x="417.4" y="401.8" font-size="8" fill="#b9dbeb" textLength="28.6" lengthAdjust="spacingAndGlyphs">.com</text>
  </g>

  <!-- LABELS -->
  <g id="labels" filter="url(#txt)">
    <text class="lbl" x="208.6" y="45.8" textLength="133" lengthAdjust="spacingAndGlyphs">Bracket</text>
    <text class="lbl" x="340" y="153" textLength="92" lengthAdjust="spacingAndGlyphs">Front</text>
    <text class="lbl" x="339" y="206" textLength="76" lengthAdjust="spacingAndGlyphs">Seat</text>
    <text class="lbl" x="684" y="219" textLength="80" lengthAdjust="spacingAndGlyphs">Rear</text>
    <text class="lbl" x="683" y="273" textLength="76" lengthAdjust="spacingAndGlyphs">Seat</text>
    <text class="lbl" x="635" y="345" textLength="157.5" lengthAdjust="spacingAndGlyphs">Dampers</text>
    <text class="lbl" x="188" y="747.4" textLength="167" lengthAdjust="spacingAndGlyphs">Seat Lock</text>
  </g>
</svg>
</body>
</html>
